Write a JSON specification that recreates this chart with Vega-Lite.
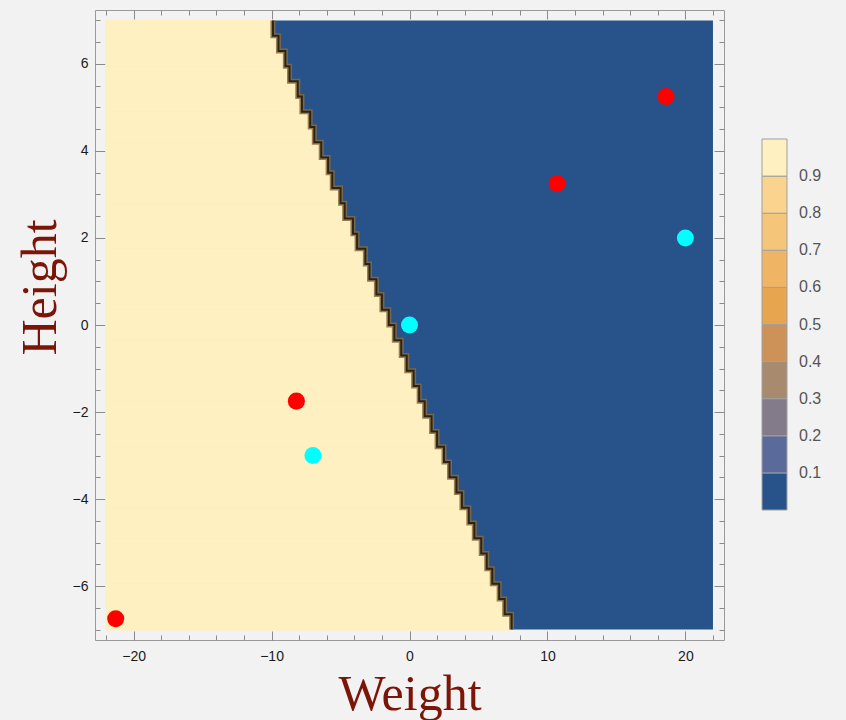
{
  "$schema": "https://vega.github.io/schema/vega-lite/v6.json",
  "width": 629,
  "height": 630,
  "autosize": {"type": "none"},
  "padding": {"left": 95, "top": 10, "right": 122, "bottom": 80},
  "background": "#f2f2f2",
  "config": {
    "view": {"stroke": null},
    "axis": {"grid": false, "domainColor": "#9a9a9a", "tickColor": "#8a8a8a", "labelFont": "Liberation Sans", "labelFontSize": 14, "labelColor": "#1a1a1a", "tickWidth": 1}
  },
  "datasets": {
    "field": [{"xa": -22, "xz": 22, "ya": -7, "yz": 7, "p": 0.02}],
    "cells": [
      {"yt": 7, "yb": 6.65, "xb": -9.9, "p": 0.98},
      {"yt": 6.65, "yb": 6.3, "xb": -9.5, "p": 0.98},
      {"yt": 6.3, "yb": 5.95, "xb": -9.0, "p": 0.98},
      {"yt": 5.95, "yb": 5.6, "xb": -8.7, "p": 0.98},
      {"yt": 5.6, "yb": 5.25, "xb": -8.1, "p": 0.98},
      {"yt": 5.25, "yb": 4.9, "xb": -7.8, "p": 0.98},
      {"yt": 4.9, "yb": 4.55, "xb": -7.2, "p": 0.98},
      {"yt": 4.55, "yb": 4.2, "xb": -6.9, "p": 0.98},
      {"yt": 4.2, "yb": 3.85, "xb": -6.4, "p": 0.98},
      {"yt": 3.85, "yb": 3.5, "xb": -5.9, "p": 0.98},
      {"yt": 3.5, "yb": 3.15, "xb": -5.6, "p": 0.98},
      {"yt": 3.15, "yb": 2.8, "xb": -5.0, "p": 0.98},
      {"yt": 2.8, "yb": 2.45, "xb": -4.7, "p": 0.98},
      {"yt": 2.45, "yb": 2.1, "xb": -4.1, "p": 0.98},
      {"yt": 2.1, "yb": 1.75, "xb": -3.8, "p": 0.98},
      {"yt": 1.75, "yb": 1.4, "xb": -3.2, "p": 0.98},
      {"yt": 1.4, "yb": 1.05, "xb": -2.9, "p": 0.98},
      {"yt": 1.05, "yb": 0.7, "xb": -2.4, "p": 0.98},
      {"yt": 0.7, "yb": 0.35, "xb": -2.0, "p": 0.98},
      {"yt": 0.35, "yb": 0, "xb": -1.5, "p": 0.98},
      {"yt": 0, "yb": -0.35, "xb": -1.1, "p": 0.98},
      {"yt": -0.35, "yb": -0.7, "xb": -0.6, "p": 0.98},
      {"yt": -0.7, "yb": -1.05, "xb": -0.2, "p": 0.98},
      {"yt": -1.05, "yb": -1.4, "xb": 0.3, "p": 0.98},
      {"yt": -1.4, "yb": -1.75, "xb": 0.7, "p": 0.98},
      {"yt": -1.75, "yb": -2.1, "xb": 1.1, "p": 0.98},
      {"yt": -2.1, "yb": -2.45, "xb": 1.6, "p": 0.98},
      {"yt": -2.45, "yb": -2.8, "xb": 2.0, "p": 0.98},
      {"yt": -2.8, "yb": -3.15, "xb": 2.5, "p": 0.98},
      {"yt": -3.15, "yb": -3.5, "xb": 2.9, "p": 0.98},
      {"yt": -3.5, "yb": -3.85, "xb": 3.4, "p": 0.98},
      {"yt": -3.85, "yb": -4.2, "xb": 3.8, "p": 0.98},
      {"yt": -4.2, "yb": -4.55, "xb": 4.3, "p": 0.98},
      {"yt": -4.55, "yb": -4.9, "xb": 4.7, "p": 0.98},
      {"yt": -4.9, "yb": -5.25, "xb": 5.2, "p": 0.98},
      {"yt": -5.25, "yb": -5.6, "xb": 5.6, "p": 0.98},
      {"yt": -5.6, "yb": -5.95, "xb": 6.0, "p": 0.98},
      {"yt": -5.95, "yb": -6.3, "xb": 6.5, "p": 0.98},
      {"yt": -6.3, "yb": -6.65, "xb": 6.9, "p": 0.98},
      {"yt": -6.65, "yb": -7, "xb": 7.4, "p": 0.98},
      {"yt": -7, "yb": -7, "xb": 7.4, "p": 0.98}
    ],
    "points": [
      {"w": -21.3, "h": -6.75, "cls": "A"},
      {"w": -8.2, "h": -1.75, "cls": "A"},
      {"w": 10.7, "h": 3.25, "cls": "A"},
      {"w": 18.6, "h": 5.25, "cls": "A"},
      {"w": -7.0, "h": -3.0, "cls": "B"},
      {"w": 0.0, "h": 0.0, "cls": "B"},
      {"w": 20.0, "h": 2.0, "cls": "B"}
    ]
  },
  "layer": [
    {
      "data": {"name": "field"},
      "mark": {"type": "rect"},
      "encoding": {
        "x": {"field": "xa", "type": "quantitative", "scale": {"domain": [-22.8, 22.8], "nice": false, "zero": false},
          "axis": {"orient": "bottom", "values": [-20, -10, 0, 10, 20], "ticks": false, "labelPadding": 9, "title": "Weight", "titleFont": "Liberation Serif", "titleFontSize": 50, "titleFontWeight": "normal", "titleColor": "#7b1508", "titleY": 69, "titleBaseline": "alphabetic"}},
        "x2": {"field": "xz"},
        "y": {"field": "ya", "type": "quantitative", "scale": {"domain": [-7.24, 7.24], "nice": false, "zero": false},
          "axis": {"orient": "left", "values": [-6, -4, -2, 0, 2, 4, 6], "ticks": false, "labelPadding": 7, "title": "Height", "titleFont": "Liberation Serif", "titleFontSize": 50, "titleFontWeight": "normal", "titleColor": "#7b1508", "titleX": -40, "titleY": 277, "titleAngle": -90, "titleAlign": "center", "titleBaseline": "alphabetic"}},
        "y2": {"field": "yz"},
        "color": {"field": "p", "type": "quantitative",
          "scale": {"type": "threshold", "domain": [0.1, 0.2, 0.3, 0.4, 0.5, 0.6, 0.7, 0.8, 0.9],
            "range": ["#27538a", "#5a6a9b", "#837b8a", "#a88a6e", "#cc9258", "#e8a550", "#efb565", "#f5c57a", "#fad48e", "#fef0c0"]},
          "legend": {"type": "gradient", "orient": "none", "legendX": 667, "legendY": 129, "direction": "vertical", "gradientLength": 371, "gradientThickness": 25, "gradientStrokeColor": "#a0a0a0", "gradientStrokeWidth": 1, "labelFontSize": 16, "labelColor": "#555555", "labelFont": "Liberation Sans", "labelOffset": 12, "title": null, "padding": 0}}
      }
    },
    {
      "data": {"name": "cells"},
      "mark": {"type": "rect", "stroke": "#fef0c0", "strokeWidth": 1.2},
      "encoding": {
        "x": {"field": "xb", "type": "quantitative", "scale": {"domain": [-22.8, 22.8], "nice": false, "zero": false},
          "axis": {"orient": "bottom", "values": [-20, -10, 0, 10, 20], "labels": false, "domain": false, "tickSize": -9, "title": null}},
        "x2": {"datum": -22},
        "y": {"field": "yt", "type": "quantitative", "scale": {"domain": [-7.24, 7.24], "nice": false, "zero": false},
          "axis": {"orient": "left", "values": [-6, -4, -2, 0, 2, 4, 6], "labels": false, "domain": false, "tickSize": -10, "title": null}},
        "y2": {"field": "yb"},
        "color": {"field": "p", "type": "quantitative",
          "scale": {"type": "threshold", "domain": [0.1, 0.2, 0.3, 0.4, 0.5, 0.6, 0.7, 0.8, 0.9],
            "range": ["#27538a", "#5a6a9b", "#837b8a", "#a88a6e", "#cc9258", "#e8a550", "#efb565", "#f5c57a", "#fad48e", "#fef0c0"]}}
      }
    },
    {
      "data": {"name": "cells"},
      "mark": {"type": "line", "interpolate": "step-before", "stroke": "#8a6a3c", "strokeWidth": 5, "opacity": 0.85},
      "encoding": {
        "x": {"field": "xb", "type": "quantitative", "scale": {"domain": [-22.8, 22.8], "nice": false, "zero": false},
          "axis": {"orient": "bottom", "values": [-22, -20, -18, -16, -14, -12, -10, -8, -6, -4, -2, 0, 2, 4, 6, 8, 10, 12, 14, 16, 18, 20, 22], "labels": false, "domain": false, "tickSize": -5, "title": null}},
        "y": {"field": "yt", "type": "quantitative", "scale": {"domain": [-7.24, 7.24], "nice": false, "zero": false},
          "axis": {"orient": "left", "values": [-7, -6.5, -6, -5.5, -5, -4.5, -4, -3.5, -3, -2.5, -2, -1.5, -1, -0.5, 0, 0.5, 1, 1.5, 2, 2.5, 3, 3.5, 4, 4.5, 5, 5.5, 6, 6.5, 7], "labels": false, "domain": false, "tickSize": -5, "title": null}},
        "order": {"field": "yt", "sort": "descending"}
      }
    },
    {
      "data": {"name": "cells"},
      "mark": {"type": "line", "interpolate": "step-before", "stroke": "#2b2418", "strokeWidth": 2},
      "encoding": {
        "x": {"field": "xb", "type": "quantitative", "scale": {"domain": [-22.8, 22.8], "nice": false, "zero": false},
          "axis": {"orient": "top", "values": [-20, -10, 0, 10, 20], "labels": false, "domain": true, "tickSize": -9, "title": null}},
        "y": {"field": "yt", "type": "quantitative", "scale": {"domain": [-7.24, 7.24], "nice": false, "zero": false},
          "axis": {"orient": "right", "values": [-6, -4, -2, 0, 2, 4, 6], "labels": false, "domain": true, "tickSize": -10, "title": null}},
        "order": {"field": "yt", "sort": "descending"}
      }
    },
    {
      "data": {"name": "points"},
      "mark": {"type": "point", "filled": true, "opacity": 1, "size": 290, "shape": "circle"},
      "encoding": {
        "x": {"field": "w", "type": "quantitative", "scale": {"domain": [-22.8, 22.8], "nice": false, "zero": false},
          "axis": {"orient": "top", "values": [-22, -20, -18, -16, -14, -12, -10, -8, -6, -4, -2, 0, 2, 4, 6, 8, 10, 12, 14, 16, 18, 20, 22], "labels": false, "domain": false, "tickSize": -5, "title": null}},
        "y": {"field": "h", "type": "quantitative", "scale": {"domain": [-7.24, 7.24], "nice": false, "zero": false},
          "axis": {"orient": "right", "values": [-7, -6.5, -6, -5.5, -5, -4.5, -4, -3.5, -3, -2.5, -2, -1.5, -1, -0.5, 0, 0.5, 1, 1.5, 2, 2.5, 3, 3.5, 4, 4.5, 5, 5.5, 6, 6.5, 7], "labels": false, "domain": false, "tickSize": -5, "title": null}},
        "fill": {"field": "cls", "type": "nominal", "scale": {"domain": ["A", "B"], "range": ["#ff0000", "#00ffff"]}, "legend": null}
      }
    }
  ],
  "resolve": {"axis": {"x": "independent", "y": "independent"}}
}
